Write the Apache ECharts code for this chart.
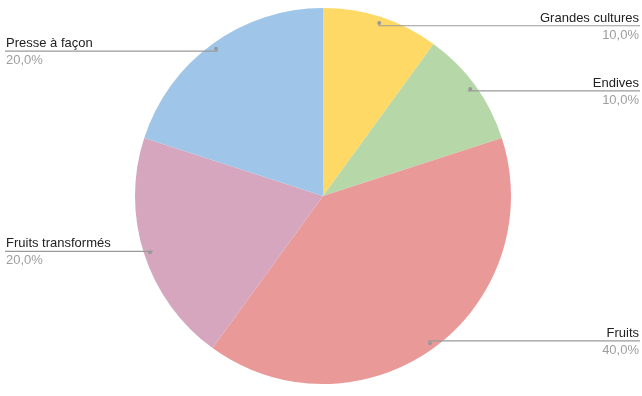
<!DOCTYPE html>
<html><head><meta charset="utf-8">
<script src="https://cdn.jsdelivr.net/npm/echarts@6/dist/echarts.min.js"></script>
<style>html,body{margin:0;padding:0;background:#fff}#c{width:642px;height:396px}</style>
</head><body><div id="c"></div>
<script>
const categories = ['Grandes cultures', 'Endives', 'Fruits', 'Fruits transformés', 'Presse à façon'];
const values = [10, 10, 40, 20, 20];
const colors = ['#ffd966', '#b6d7a8', '#ea9999', '#d5a6bd', '#9fc5e8'];

const W = 642, CX = 323, CY = 196, R = 188, RL = 179;
const data = categories.map((c, i) => ({ name: c, value: values[i] }));
const font = "Arial, 'Liberation Sans', sans-serif";
const chart = echarts.init(document.getElementById('c'), null, { renderer: 'canvas' });
chart.setOption({
  animation: false,
  color: colors,
  series: [
    {
      type: 'pie', z: 1, center: [CX, CY], radius: R, startAngle: 90, clockwise: true,
      data: data, silent: true, label: { show: false }, labelLine: { show: false },
      itemStyle: { borderWidth: 0 }
    },
    {
      type: 'pie', z: 5, center: [CX, CY], radius: RL, startAngle: 90, clockwise: true,
      data: data, silent: true, avoidLabelOverlap: false,
      itemStyle: { color: 'rgba(0,0,0,0)' },
      label: {
        show: true, position: 'outside', alignTo: 'edge', edgeDistance: 3,
        formatter: p => '{n|' + p.name + '}\n{p|' + p.percent.toFixed(1).replace('.', ',') + '%}',
        rich: {
          n: { fontFamily: font, fontSize: 13, color: '#222', lineHeight: 17 },
          p: { fontFamily: font, fontSize: 13, color: '#9e9e9e', lineHeight: 17 }
        }
      },
      labelLine: { show: true, length: 0, length2: 10, lineStyle: { color: '#9a9a9a', width: 1.2 } },
      labelLayout: function (params) {
        const pts = params.labelLinePoints;
        if (!pts) return {};
        const p0 = pts[0];
        const isLeft = p0[0] < CX;
        return {
          x: isLeft ? 6 : W - 3,
          y: p0[1] + 1,
          align: isLeft ? 'left' : 'right',
          verticalAlign: 'middle',
          labelLinePoints: [p0, p0, [isLeft ? 5 : W - 2, p0[1]]]
        };
      }
    },
    {
      type: 'pie', z: 6, center: [CX, CY], radius: [RL - 2, RL + 2], startAngle: 90, clockwise: true,
      data: data, silent: true,
      itemStyle: { color: 'rgba(0,0,0,0)' },
      label: {
        show: true, position: 'inside', formatter: ' ', fontSize: 4, lineHeight: 4,
        width: 4, height: 4, padding: 0, borderRadius: 2, backgroundColor: '#999',
        align: 'center', verticalAlign: 'middle'
      },
      labelLine: { show: false }
    }
  ]
});
</script></body></html>
